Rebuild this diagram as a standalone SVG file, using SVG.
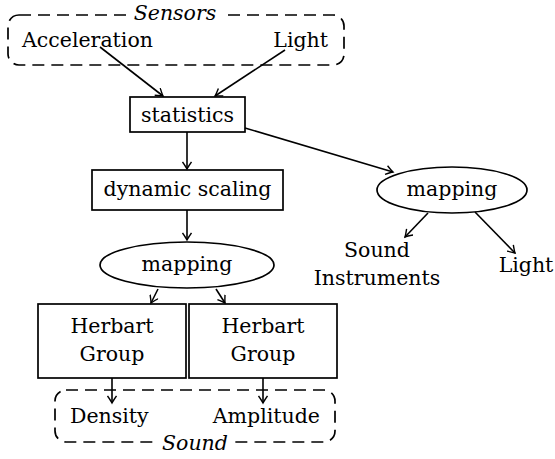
<svg xmlns="http://www.w3.org/2000/svg" width="555" height="459" viewBox="0 0 555 459">
<style>
text{font-family:"DejaVu Serif","Liberation Serif",serif;font-size:20.5px;fill:#000}
.it{font-style:italic}
.box{fill:#fff;stroke:#000;stroke-width:1.7}
.dash{fill:none;stroke:#000;stroke-width:1.7;stroke-dasharray:12 7}
.edge{fill:none;stroke:#000;stroke-width:1.6;marker-end:url(#arr)}
.bg{fill:#fff;stroke:none}
</style>
<defs>
<marker id="arr" markerUnits="userSpaceOnUse" viewBox="-8 -5 10 10" refX="0" refY="0" markerWidth="10" markerHeight="10" orient="auto">
<path d="M-7,-4.5 Q-2,-1 0,0 Q-2,1 -7,4.5" fill="none" stroke="#000" stroke-width="1.4"/>
</marker>
</defs>
<g id="sensors">
<rect class="dash" x="8" y="15" width="336" height="50" rx="11"/>
<rect class="bg" x="128" y="3" width="94" height="22"/>
<text class="it" x="175" y="20" text-anchor="middle">Sensors</text>
<text x="22" y="47">Acceleration</text>
<text x="328" y="47" text-anchor="end">Light</text>
</g>
<g id="sound">
<rect class="dash" x="55" y="390" width="280" height="52" rx="11"/>
<rect class="bg" x="156" y="435" width="79" height="24"/>
<text class="it" x="195" y="450" text-anchor="middle">Sound</text>
<text x="70" y="423">Density</text>
<text x="320" y="423" text-anchor="end">Amplitude</text>
</g>
<g id="statistics">
<rect class="box" x="130" y="97" width="115" height="35"/>
<text x="187.5" y="122" text-anchor="middle">statistics</text>
</g>
<g id="dynamic-scaling">
<rect class="box" x="92" y="170" width="191" height="40"/>
<text x="187.5" y="196" text-anchor="middle">dynamic scaling</text>
</g>
<g id="mapping-left">
<ellipse class="box" cx="187" cy="265" rx="87" ry="23"/>
<text x="187" y="271" text-anchor="middle">mapping</text>
</g>
<g id="mapping-right">
<ellipse class="box" cx="452" cy="190" rx="75" ry="23"/>
<text x="452" y="196" text-anchor="middle">mapping</text>
</g>
<g id="sound-instruments">
<text x="377" y="257" text-anchor="middle">Sound</text>
<text x="377" y="285" text-anchor="middle">Instruments</text>
</g>
<g id="light-out">
<text x="526" y="272" text-anchor="middle">Light</text>
</g>
<g id="herbart-1">
<rect class="box" x="38" y="304" width="148" height="74"/>
<text x="112" y="333" text-anchor="middle">Herbart</text>
<text x="112" y="361" text-anchor="middle">Group</text>
</g>
<g id="herbart-2">
<rect class="box" x="189" y="304" width="148" height="74"/>
<text x="263" y="333" text-anchor="middle">Herbart</text>
<text x="263" y="361" text-anchor="middle">Group</text>
</g>
<g id="connectors">
<path class="edge" d="M100,47 L163,96"/>
<path class="edge" d="M285,50 L215,96"/>
<path class="edge" d="M187,132 L187,169"/>
<path class="edge" d="M245,128 L393,172"/>
<path class="edge" d="M187,210 L187,240"/>
<path class="edge" d="M428,213 L405,237"/>
<path class="edge" d="M475,212 L515,253"/>
<path class="edge" d="M158,289 L151,303"/>
<path class="edge" d="M216,289 L225,303"/>
<path class="edge" d="M112,378 L112,403"/>
<path class="edge" d="M263,378 L263,403"/>
</g>
</svg>
